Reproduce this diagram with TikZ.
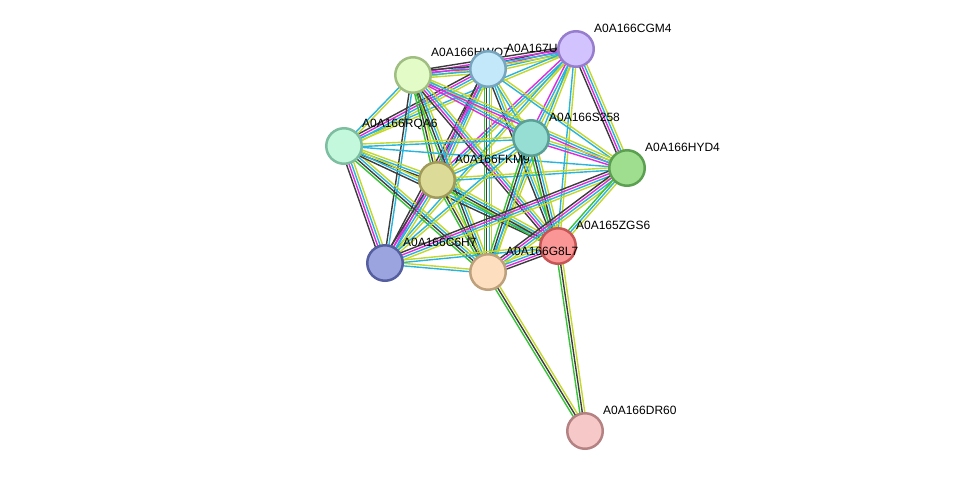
\documentclass[tikz,border=0pt]{standalone}
\usepackage{fontspec}
\setmainfont{Liberation Sans}
\usetikzlibrary{calc}

\definecolor{nbr}{RGB}{55,195,55}
\definecolor{coex}{RGB}{60,60,60}
\definecolor{exp}{RGB}{220,45,220}
\definecolor{dbs}{RGB}{40,180,220}
\definecolor{txt}{RGB}{195,215,45}

\definecolor{cgmF}{RGB}{210,194,253}\definecolor{cgmD}{RGB}{150,125,205}
\definecolor{uuF}{RGB}{195,232,250}\definecolor{uuD}{RGB}{120,165,190}
\definecolor{hwqF}{RGB}{227,251,198}\definecolor{hwqD}{RGB}{160,190,130}
\definecolor{rqaF}{RGB}{196,248,220}\definecolor{rqaD}{RGB}{125,190,160}
\definecolor{s25F}{RGB}{150,221,212}\definecolor{s25D}{RGB}{90,160,150}
\definecolor{hydF}{RGB}{158,222,142}\definecolor{hydD}{RGB}{90,160,80}
\definecolor{fkmF}{RGB}{221,219,152}\definecolor{fkmD}{RGB}{160,155,90}
\definecolor{zgsF}{RGB}{251,150,150}\definecolor{zgsD}{RGB}{200,85,85}
\definecolor{c6hF}{RGB}{155,164,222}\definecolor{c6hD}{RGB}{85,95,160}
\definecolor{g8lF}{RGB}{253,223,191}\definecolor{g8lD}{RGB}{190,160,125}
\definecolor{dr6F}{RGB}{246,200,200}\definecolor{dr6D}{RGB}{180,130,130}

\pgfdeclarelayer{edges}
\pgfsetlayers{edges,main}

\newcommand{\link}[3]{%
  \foreach \col [count=\i] in {#3} {\xdef\nlines{\i}}
  \foreach \col [count=\i] in {#3} {
    \pgfmathsetmacro{\off}{(\i-(\nlines+1)/2)*2.5}
    \draw[evid, draw=\col] ($(#1)!\off pt!90:(#2)$) -- ($(#2)!\off pt!-90:(#1)$);
  }
}

\begin{document}
\begin{tikzpicture}[x=1pt,y=-1pt,
  prot/.style={circle, minimum size=35.5pt, inner sep=0pt, line width=2.5pt},
  lbl/.style={font=\fontsize{12}{14}\selectfont, inner sep=0pt, xshift=4.5pt, yshift=2.3pt},
  evid/.style={line width=1.4pt}]
\useasboundingbox (0,0) rectangle (976,477);

\node[prot, fill=hwqF, draw=hwqD, label={[lbl]45:A0A166HWQ7}] (hwq) at (413,75) {};
\node[prot, fill=uuF, draw=uuD, label={[lbl]45:A0A167UFN9}] (uu) at (488,69) {};
\node[prot, fill=cgmF, draw=cgmD, label={[lbl]45:A0A166CGM4}] (cgm) at (576,49) {};
\node[prot, fill=rqaF, draw=rqaD, label={[lbl]45:A0A166RQA6}] (rqa) at (344,146) {};
\node[prot, fill=fkmF, draw=fkmD, label={[lbl]45:A0A166FKM9}] (fkm) at (437,180) {};
\node[prot, fill=s25F, draw=s25D, label={[lbl]45:A0A166S258}] (s25) at (531,138) {};
\node[prot, fill=hydF, draw=hydD, label={[lbl]45:A0A166HYD4}] (hyd) at (627,168) {};
\node[prot, fill=c6hF, draw=c6hD, label={[lbl]45:A0A166C6H7}] (c6h) at (385,263) {};
\node[prot, fill=zgsF, draw=zgsD, label={[lbl]45:A0A165ZGS6}] (zgs) at (558,246) {};
\node[prot, fill=g8lF, draw=g8lD, label={[lbl]45:A0A166G8L7}] (g8l) at (488,272) {};
\node[prot, fill=dr6F, draw=dr6D, label={[lbl]45:A0A166DR60}] (dr6) at (585,431) {};

\begin{pgfonlayer}{edges}
\link{cgm}{uu}{coex,exp,dbs,txt}
\link{cgm}{hwq}{coex,exp,dbs,txt}
\link{cgm}{rqa}{dbs,txt}
\link{cgm}{s25}{exp,dbs,txt}
\link{cgm}{hyd}{coex,exp,dbs,txt}
\link{cgm}{fkm}{exp,dbs,txt}
\link{cgm}{c6h}{dbs,txt}
\link{cgm}{g8l}{dbs,txt}
\link{cgm}{zgs}{dbs,txt}
\link{uu}{hwq}{coex,exp,dbs,txt}
\link{uu}{rqa}{coex,exp,dbs,txt}
\link{uu}{fkm}{coex,exp,dbs,txt}
\link{uu}{c6h}{coex,exp,dbs}
\link{uu}{g8l}{nbr,coex,dbs,txt}
\link{uu}{zgs}{coex,dbs,txt}
\link{uu}{s25}{dbs,txt}
\link{uu}{hyd}{dbs,txt}
\link{hwq}{rqa}{dbs,txt}
\link{hwq}{fkm}{nbr,coex,txt}
\link{hwq}{c6h}{coex,dbs}
\link{hwq}{g8l}{nbr,coex,dbs,txt}
\link{hwq}{zgs}{coex,exp,dbs,txt}
\link{hwq}{s25}{exp,dbs,txt}
\link{hwq}{hyd}{exp,dbs,txt}
\link{rqa}{s25}{dbs,txt}
\link{rqa}{hyd}{dbs}
\link{rqa}{fkm}{coex,dbs,txt}
\link{rqa}{c6h}{coex,exp,dbs,txt}
\link{rqa}{g8l}{nbr,coex,dbs,txt}
\link{rqa}{zgs}{coex,dbs,txt}
\link{fkm}{s25}{dbs,txt}
\link{fkm}{hyd}{dbs,txt}
\link{fkm}{c6h}{coex,exp,dbs,txt}
\link{fkm}{g8l}{nbr,coex,txt}
\link{fkm}{zgs}{nbr,coex,dbs,txt}
\link{s25}{hyd}{exp,dbs,txt}
\link{s25}{c6h}{dbs,txt}
\link{s25}{g8l}{nbr,coex,dbs,txt}
\link{s25}{zgs}{nbr,coex,dbs,txt}
\link{hyd}{c6h}{coex,exp,dbs,txt}
\link{hyd}{g8l}{coex,exp,dbs,txt}
\link{hyd}{zgs}{nbr,dbs,txt}
\link{c6h}{g8l}{dbs,txt}
\link{c6h}{zgs}{dbs,txt}
\link{g8l}{zgs}{coex,exp,dbs,txt}
\link{g8l}{dr6}{nbr,coex,txt}
\link{zgs}{dr6}{nbr,coex,txt}
\end{pgfonlayer}
\end{tikzpicture}
\end{document}
